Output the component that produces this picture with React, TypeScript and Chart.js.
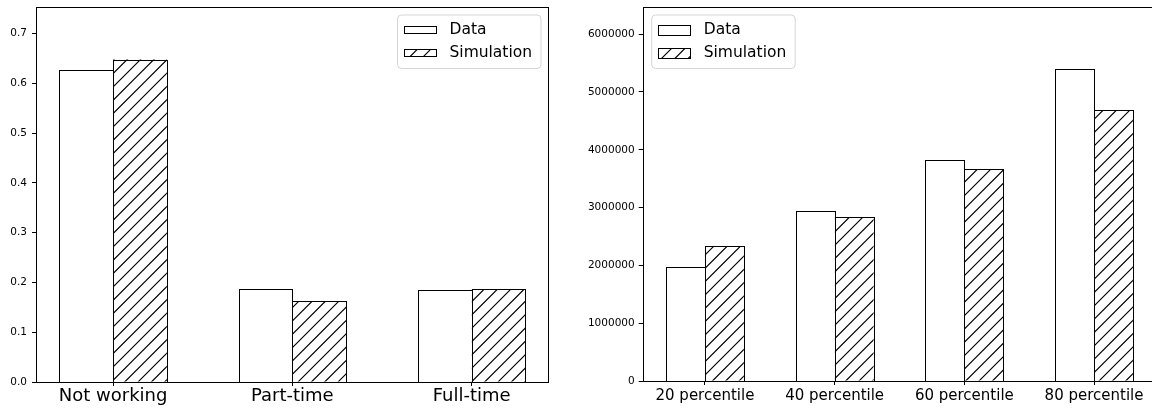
import React, { useEffect, useRef } from 'react';
import { Chart, registerables } from 'chart.js';

Chart.register(...registerables);

// ---- data ----
const statusLabels = ['Not working', 'Part-time', 'Full-time'];
const statusData = [0.628, 0.187, 0.185];
const statusSim = [0.648, 0.163, 0.187];
const statusYTicks = [0, 0.1, 0.2, 0.3, 0.4, 0.5, 0.6, 0.7];

const pctLabels = ['20 percentile', '40 percentile', '60 percentile', '80 percentile'];
const pctData = [1980000, 2936000, 3824000, 5400000];
const pctSim = [2336000, 2837000, 3668000, 4690000];
const pctYTicks = [0, 1000000, 2000000, 3000000, 4000000, 5000000, 6000000];

const seriesNames = ['Data', 'Simulation'];

const FONT = '"DejaVu Sans", sans-serif';

function makeHatch(): CanvasPattern | string {
  const s = 40;
  const c = document.createElement('canvas');
  c.width = s;
  c.height = s;
  const g = c.getContext('2d');
  if (!g) return '#fff';
  g.fillStyle = '#fff';
  g.fillRect(0, 0, s, s);
  g.strokeStyle = '#000';
  g.lineWidth = 1.15;
  const step = s / 3;
  g.beginPath();
  for (let k = -1; k <= 7; k++) {
    const cc = k * step;
    g.moveTo(-5, cc + 5);
    g.lineTo(cc + 5, -5);
  }
  g.stroke();
  const p = g.createPattern(c, 'repeat');
  return p || '#fff';
}

const framePlugin = {
  id: 'frameLegend',
  afterDatasetsDraw(chart: any) {
    const ctx = chart.ctx as CanvasRenderingContext2D;
    ctx.save();
    ctx.strokeStyle = '#000';
    ctx.lineWidth = 1;
    chart.data.datasets.forEach((_ds: any, di: number) => {
      const meta = chart.getDatasetMeta(di);
      meta.data.forEach((el: any) => {
        const p = el.getProps(['x', 'y', 'base', 'width'], true);
        const l = Math.round(p.x - p.width / 2);
        const r = Math.round(p.x + p.width / 2);
        const t = Math.round(p.y);
        const b = Math.round(p.base);
        ctx.strokeRect(l + 0.5, t + 0.5, r - l, b - t);
      });
    });
    ctx.restore();
  },
  afterDraw(chart: any, _args: any, opts: any) {
    const ctx = chart.ctx as CanvasRenderingContext2D;
    const a = chart.chartArea;
    ctx.save();
    // spines
    ctx.strokeStyle = '#000';
    ctx.lineWidth = 1;
    const l = Math.round(a.left) + 0.5;
    const t = Math.round(a.top) + 0.5;
    const r = Math.round(a.right) - 0.5;
    const b = Math.round(a.bottom) + 0.5;
    ctx.strokeRect(l, t, r - l, b - t);

    // legend
    const fw = 143.5;
    const fh = 53.5;
    const fx = opts.side === 'right' ? a.right - 7.7 - fw : a.left + 9;
    const fy = a.top + 8;
    const rad = 4;
    ctx.beginPath();
    ctx.moveTo(fx + rad, fy);
    ctx.lineTo(fx + fw - rad, fy);
    ctx.quadraticCurveTo(fx + fw, fy, fx + fw, fy + rad);
    ctx.lineTo(fx + fw, fy + fh - rad);
    ctx.quadraticCurveTo(fx + fw, fy + fh, fx + fw - rad, fy + fh);
    ctx.lineTo(fx + rad, fy + fh);
    ctx.quadraticCurveTo(fx, fy + fh, fx, fy + fh - rad);
    ctx.lineTo(fx, fy + rad);
    ctx.quadraticCurveTo(fx, fy, fx + rad, fy);
    ctx.closePath();
    ctx.fillStyle = 'rgba(255,255,255,0.8)';
    ctx.fill();
    ctx.strokeStyle = '#d5d5d5';
    ctx.lineWidth = 1;
    ctx.stroke();

    const hh = opts.handleH;
    const centers = [fy + 14.5, fy + 37.5];
    chart.data.datasets.forEach((ds: any, i: number) => {
      const cy = centers[i];
      const hx = Math.round(fx + 6);
      const hy = Math.round(cy - hh / 2);
      ctx.fillStyle = ds.backgroundColor;
      ctx.fillRect(hx, hy, 33, Math.round(hh));
      ctx.strokeStyle = '#000';
      ctx.lineWidth = 1;
      ctx.strokeRect(hx + 0.5, hy + 0.5, 32, Math.round(hh));
      ctx.fillStyle = '#000';
      ctx.font = `15.5px ${FONT}`;
      ctx.textBaseline = 'middle';
      ctx.textAlign = 'left';
      ctx.fillText(ds.label, fx + 52, cy);
    });
    ctx.restore();
  },
};

function buildConfig(
  labels: string[],
  dataVals: number[],
  simVals: number[],
  yTicks: number[],
  hatch: any,
  o: {
    xmin: number; xmax: number; ymax: number; fmt: (v: number) => string;
    yWidth: number; xHeight: number; padRight: number; xFont: number; xPad: number; yPad: number;
    side: string; handleH: number;
  }
): any {
  return {
    type: 'bar',
    data: {
      datasets: [
        {
          label: seriesNames[0],
          data: dataVals.map((y, i) => ({ x: i, y })),
          backgroundColor: '#fff',
          borderWidth: 0,
          categoryPercentage: 0.6,
          barPercentage: 1,
        },
        {
          label: seriesNames[1],
          data: simVals.map((y, i) => ({ x: i, y })),
          backgroundColor: hatch,
          borderWidth: 0,
          categoryPercentage: 0.6,
          barPercentage: 1,
        },
      ],
    },
    options: {
      responsive: false,
      animation: false,
      events: [],
      layout: { padding: { left: 0, top: 7, right: o.padRight, bottom: 0 } },
      plugins: {
        legend: { display: false },
        tooltip: { enabled: false },
        frameLegend: { side: o.side, handleH: o.handleH },
      },
      scales: {
        x: {
          type: 'linear',
          min: o.xmin,
          max: o.xmax,
          offset: false,
          grid: { display: true, offset: false, drawOnChartArea: false, tickLength: 4, color: '#000', tickWidth: 1 },
          border: { display: false },
          afterBuildTicks: (s: any) => {
            s.ticks = labels.map((_, i) => ({ value: i }));
          },
          afterFit: (s: any) => {
            s.height = o.xHeight;
            s.paddingLeft = 0;
            s.paddingRight = 0;
          },
          ticks: {
            autoSkip: false,
            maxRotation: 0,
            padding: o.xPad,
            color: '#000',
            font: { family: FONT, size: o.xFont },
            callback: (v: any) => labels[Math.round(Number(v))] ?? '',
          },
        },
        y: {
          type: 'linear',
          min: 0,
          max: o.ymax,
          grid: { display: true, drawOnChartArea: false, tickLength: 4, color: '#000', tickWidth: 1 },
          border: { display: false },
          afterBuildTicks: (s: any) => {
            s.ticks = yTicks.map((v) => ({ value: v }));
          },
          afterFit: (s: any) => {
            s.width = o.yWidth;
            s.paddingTop = 0;
            s.paddingBottom = 0;
          },
          ticks: {
            padding: o.yPad,
            color: '#000',
            font: { family: FONT, size: 10.5 },
            callback: (v: any) => o.fmt(Number(v)),
          },
        },
      },
    },
    plugins: [framePlugin],
  };
}

export default function App() {
  const leftRef = useRef<HTMLCanvasElement>(null);
  const rightRef = useRef<HTMLCanvasElement>(null);

  useEffect(() => {
    const hatch = makeHatch();
    const c1 = new Chart(
      leftRef.current as HTMLCanvasElement,
      buildConfig(statusLabels, statusData, statusSim, statusYTicks, hatch, {
        xmin: -0.43, xmax: 2.43, ymax: 0.7536, fmt: (v) => v.toFixed(1),
        yWidth: 36, xHeight: 28, padRight: 11.3, xFont: 18, xPad: 0, yPad: 5,
        side: 'right', handleH: 7,
      })
    );
    const c2 = new Chart(
      rightRef.current as HTMLCanvasElement,
      buildConfig(pctLabels, pctData, pctSim, pctYTicks, hatch, {
        xmin: -0.48, xmax: 3.48, ymax: 6470000, fmt: (v) => String(Math.round(v)),
        yWidth: 82.7, xHeight: 29, padRight: 3.7, xFont: 15, xPad: 2, yPad: 4,
        side: 'left', handleH: 10,
      })
    );
    return () => {
      c1.destroy();
      c2.destroy();
    };
  }, []);

  return (
    <div
      style={{
        position: 'absolute',
        left: 0,
        top: 0,
        width: 1152,
        height: 410,
        overflow: 'hidden',
        background: '#fff',
      }}
    >
      <canvas ref={leftRef} width={560} height={410} style={{ position: 'absolute', left: 0, top: 0 }} />
      <canvas ref={rightRef} width={600} height={410} style={{ position: 'absolute', left: 560, top: 0 }} />
    </div>
  );
}
